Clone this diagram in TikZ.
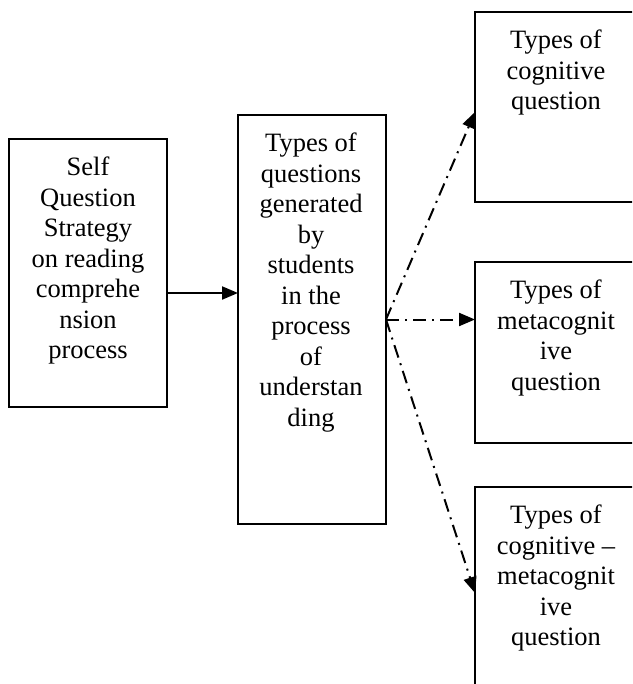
\documentclass[tikz,border=0pt]{standalone}
\usepackage{fontspec}
\setmainfont{Liberation Serif}
\usetikzlibrary{arrows.meta,calc}
\tikzset{
  boxnode/.style={draw, line width=1.8pt, inner sep=0pt, outer sep=0pt},
  txt/.style={anchor=north, align=center, inner sep=0pt, font=\fontsize{26.5}{30.5}\selectfont},
  solidarrow/.style={line width=2pt, -{Triangle[length=16pt,width=13pt]}},
  dasharrow/.style={line width=2pt, dash pattern=on 13pt off 6pt on 2pt off 6pt, -{Triangle[length=16pt,width=13pt]}}
}
\begin{document}
\begin{tikzpicture}[x=1pt,y=1pt]
\useasboundingbox (0,0) rectangle (632,-684);
\clip (0,0) rectangle (632,-684);
\node[boxnode, minimum width=158pt, minimum height=268pt] (A) at (88,-273) {};
\node[boxnode, minimum width=148pt, minimum height=409pt] (B) at (312,-319.5) {};
\node[boxnode, minimum width=162pt, minimum height=190pt] (C1) at (556,-107) {};
\node[boxnode, minimum width=162pt, minimum height=181pt] (C2) at (556,-352.5) {};
\node[boxnode, minimum width=162pt, minimum height=233pt] (C3) at (556,-603.5) {};

\node[txt] (tA) at ($(A.north)+(0,-18)$) {Self\\Question\\Strategy\\on reading\\comprehe\\nsion\\process};
\node[txt] (tB) at ($(B.north)+(-1,-18)$) {Types of\\questions\\generated\\by\\students\\in the\\process\\of\\understan\\ding};
\node[txt] (t1) at ($(C1.north)+(0,-18)$) {Types of\\cognitive\\question};
\node[txt] (t2) at ($(C2.north)+(0,-18)$) {Types of\\metacognit\\ive\\question};
\node[txt] (t3) at ($(C3.north)+(0,-18)$) {Types of\\cognitive --\\metacognit\\ive\\question};

\coordinate (a1) at (A.east |- 0,-293);
\coordinate (b1) at (B.west |- 0,-293);
\draw[solidarrow] (a1) -- (b1);

\coordinate (br) at (B.east);
\coordinate (e1) at ($(C1.west)+(0,-5)$);
\coordinate (e2) at (C2.west |- B.east);
\coordinate (e3) at (C3.west |- 0,-593);
\draw[dasharrow] (br) -- (e1);
\draw[dasharrow] (br) -- (e2);
\draw[dasharrow] (br) -- (e3);
\end{tikzpicture}
\end{document}
